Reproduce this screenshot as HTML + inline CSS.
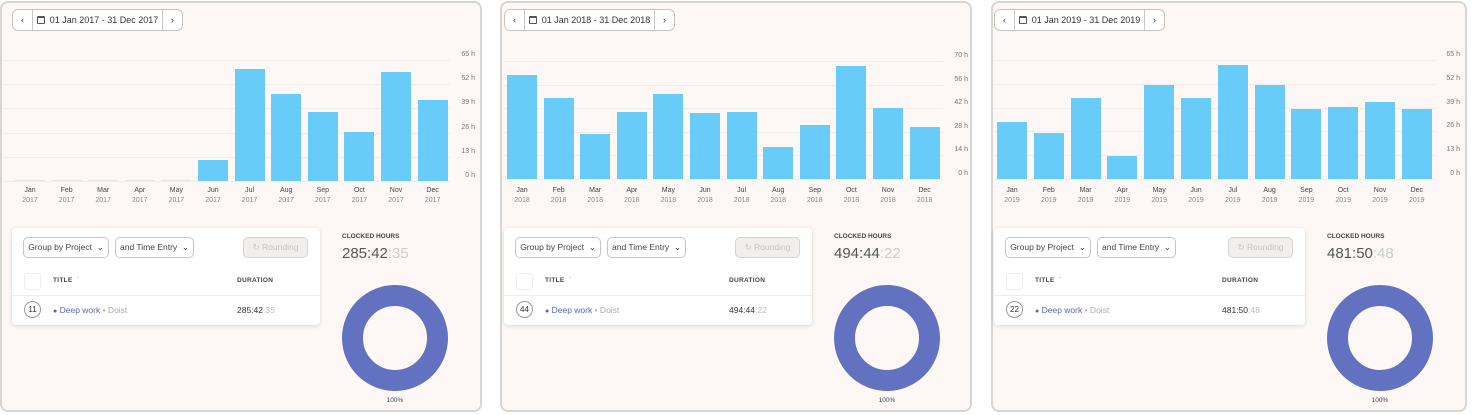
<!DOCTYPE html>
<html><head><meta charset="utf-8">
<style>
*{box-sizing:border-box;margin:0;padding:0}
body{width:1472px;height:415px;background:#fff;position:relative;overflow:hidden;font-family:"Liberation Sans",sans-serif;color:#333}
.panel{position:absolute;top:1px;height:411px;border:2px solid #d9d5d3;border-radius:8px;background:#fdf8f6}
.inner{position:absolute;left:-2px;top:-2px;width:480px;height:411px}
.abs{position:absolute;white-space:nowrap}
.nav{position:absolute;top:8px;height:22px;border:1px solid #c9c4c2;border-radius:6px;background:#fff;display:flex;font-size:9px;color:#333;white-space:nowrap}
.nav div{display:flex;align-items:center;justify-content:center}
.card{position:absolute;top:227px;height:97px;background:#fff;border-radius:4px;box-shadow:0 1px 4px rgba(0,0,0,.14)}
.btn{position:absolute;top:9px;height:21px;border:1px solid #c9c4c2;border-radius:5px;font-size:8.5px;display:flex;align-items:center;justify-content:center;color:#444;background:#fff;white-space:nowrap}
.btn.dis{background:#f1efee;color:#c6c3c2;border-color:#d5d2d0}
.hdr{position:absolute;font-size:6.5px;font-weight:bold;letter-spacing:.3px;color:#444;white-space:nowrap}
.circ{position:absolute;width:17px;height:17px;border:1px solid #999;border-radius:50%;font-size:8px;display:flex;align-items:center;justify-content:center;color:#333}
.lbl{position:absolute;font-size:7px;color:#777;text-align:right;width:30px;white-space:nowrap}
.mon{position:absolute;font-size:7px;text-align:center;width:36px;color:#444;line-height:10px}
.mon span{color:#888}
</style></head><body>
<script>
const months=["Jan","Feb","Mar","Apr","May","Jun","Jul","Aug","Sep","Oct","Nov","Dec"];
const years=["2017","2018","2019"];
const hours2017=[0,0,0,0,0,11.1,60,46.9,37.2,26.3,58.7,43.7];
const hours2018=[61.5,48.2,26.5,39.7,50.4,39.2,39.7,19,32,67,42.3,31];
const hours2019=[31,25.1,44.1,12.6,51.3,44.1,62.1,51.3,38.4,39.3,41.9,38.4];
const ticks2017=[0,13,26,39,52,65];
const ticks2018=[0,14,28,42,56,70];
const ticks2019=[0,13,26,39,52,65];
const totals=[["285:42",":35"],["494:44",":22"],["481:50",":48"]];
const counts=["11","44","22"];
const cfg=[
 {left:0,w:482,inner:12,bar0:15,pitch:36.6,axisR:477,cardW:308,donut:395,top0:59,bot:180,data:hours2017,ticks:ticks2017},
 {left:500,w:472,inner:4,bar0:7,pitch:36.6,axisR:470,cardW:308,donut:387,top0:60,bot:178,data:hours2018,ticks:ticks2018},
 {left:991,w:476,inner:3,bar0:6,pitch:36.8,axisR:471,cardW:311,donut:389,top0:59,bot:178,data:hours2019,ticks:ticks2019}
];
function mk(parent,cls,name,inter,css,html){const e=document.createElement('div');if(cls)e.className=cls;


if(css)e.style.cssText=css;if(html!==undefined)e.innerHTML=html;parent.appendChild(e);return e;}
cfg.forEach((c,pi)=>{
 const pp=mk(document.body,'panel','report-panel-'+years[pi],false,`left:${c.left}px;width:${c.w}px`);
 const p=mk(pp,'inner','panel-content',false,'');
 const L=c.inner;
 const nav=mk(p,'nav','date-range-nav',false,`left:${L}px;width:171px`);
 mk(nav,'','prev-period-button',true,'width:20px;border-right:1px solid #c9c4c2','‹');
 mk(nav,'','date-range-picker',true,'flex:1;gap:5px','<span style="display:inline-block;width:8px;height:8px;border:1px solid #555;border-radius:1px;border-top-width:2px"></span>01 Jan '+years[pi]+' - 31 Dec '+years[pi]);
 mk(nav,'','next-period-button',true,'width:20px;border-left:1px solid #c9c4c2','›');
 const max=c.ticks[c.ticks.length-1];
 const y=v=>c.bot-(v/max)*(c.bot-c.top0);
 c.ticks.forEach(t=>{
  mk(p,'abs','grid-line',false,`left:3px;width:${c.axisR-30}px;top:${y(t)}px;height:1px;background:#f3ebe8`);
  mk(p,'lbl','y-tick-label',false,`left:${c.axisR-32}px;top:${y(t)-9}px`,t+' h');
 });
 c.data.forEach((v,i)=>{
  const x=c.bar0+i*c.pitch;
  const h=Math.max(1,c.bot-y(v));
  mk(p,'abs','bar-'+months[i].toLowerCase(),true,`left:${x}px;width:30px;top:${c.bot-h}px;height:${h}px;background:${v>0?'#69cbf8':'#e6e6e6'}`);
  mk(p,'mon','x-tick-label',false,`left:${x-3}px;top:185px`,months[i]+'<br><span>'+years[pi]+'</span>');
 });
 const card=mk(p,'card','entries-table',false,`left:${L}px;width:${c.cardW}px`);
 mk(card,'btn','group-by-project-dropdown',true,'left:11px;width:86px','Group by Project&nbsp;&nbsp;⌄');
 mk(card,'btn','time-entry-dropdown',true,'left:103px;width:79px','and Time Entry&nbsp;&nbsp;⌄');
 mk(card,'btn dis','rounding-button',false,`left:${c.cardW-77}px;width:65px`,'↻&nbsp;Rounding');
 mk(card,'abs','select-all-checkbox',true,'left:12px;top:45px;width:17px;height:17px;border:1px solid #eee;border-radius:3px');
 mk(card,'hdr','title-column-header',true,'left:41px;top:49px','TITLE &nbsp;<span style="color:#bbb">ˆ</span>');
 mk(card,'hdr','duration-column-header',true,`left:${c.cardW-83}px;top:49px`,'DURATION');
 mk(card,'abs','row-divider',false,`left:0;right:0;top:67px;height:1px;background:#eee`);
 mk(card,'circ','entry-count',false,'left:12px;top:73px',counts[pi]);
 mk(card,'abs','project-name',true,'left:41px;top:77px;font-size:8.5px;color:#5566b8','<span style="font-size:7px">●</span> Deep work <span style="color:#aaa">• Doist</span>');
 mk(card,'abs','row-duration',false,`left:${c.cardW-83}px;top:77px;font-size:8.5px;color:#333`,totals[pi][0]+'<span style="color:#bbb">'+totals[pi][1]+'</span>');
 mk(p,'abs','clocked-hours-label',false,`left:${c.donut-53}px;top:232px;font-size:6.5px;font-weight:bold;color:#444`,'CLOCKED HOURS');
 mk(p,'abs','clocked-hours-value',false,`left:${c.donut-53}px;top:244px;font-size:15px;color:#555`,totals[pi][0]+'<span style="color:#ccc">'+totals[pi][1]+'</span>');
 mk(p,'abs','donut-chart',true,`left:${c.donut-53}px;top:284px;width:106px;height:106px;border-radius:50%;border:21px solid #6272c1`);
 mk(p,'abs','donut-percent-label',false,`left:${c.donut-20}px;top:396px;width:40px;text-align:center;font-size:6.5px;color:#444`,'100%');
});
</script>
</body></html>
